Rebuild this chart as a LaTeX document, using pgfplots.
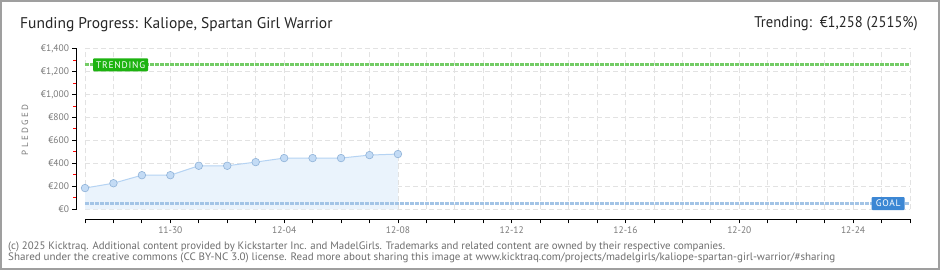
\documentclass[border=0pt]{standalone}
\usepackage{pgfplots}
\pgfplotsset{compat=1.18}
\usepackage{fontspec}
\setmainfont{PT Sans}
\definecolor{gridc}{HTML}{E2E2E2}
\definecolor{linec}{HTML}{B5D3F3}
\definecolor{fillc}{HTML}{EAF3FC}
\definecolor{markf}{HTML}{C3DBF5}
\definecolor{marke}{HTML}{8FB2D8}
\definecolor{trendc}{HTML}{74CC66}
\definecolor{trendbox}{HTML}{1DB310}
\definecolor{goalc}{HTML}{A3C4E6}
\definecolor{goalbox}{HTML}{3C87D4}
\definecolor{labc}{HTML}{7A7A7A}
\definecolor{footc}{HTML}{6E6E6E}
\begin{document}
\begin{tikzpicture}[x=1pt,y=1pt]
\draw[line width=2pt, draw=gray!75, fill=white] (1,1) rectangle (939,269);
\node[anchor=base west, inner sep=0, text=black!85] at (20,241)
  {\fontsize{15.5}{16}\selectfont Funding Progress: Kaliope, Spartan Girl Warrior};
\node[anchor=base east, inner sep=0, text=black!85] at (918,242)
  {\scalebox{0.94}[1]{\fontsize{15.5}{16}\selectfont Trending:\ \ €1,258 (2515\%)}};
\node[rotate=90, text=labc, inner sep=0] at (25,140)
  {\fontsize{9}{9}\selectfont\addfontfeature{LetterSpace=25}PLEDGED};
\node[anchor=base west, inner sep=0, text=footc] at (8,20.5)
  {\fontsize{10.8}{11}\selectfont (c) 2025 Kicktraq. Additional content provided by Kickstarter Inc. and MadelGirls. Trademarks and related content are owned by their respective companies.};
\node[anchor=base west, inner sep=0, text=footc] at (8,9.5)
  {\scalebox{1.02}[1]{\fontsize{10.8}{11}\selectfont Shared under the creative commons (CC BY-NC 3.0) license. Read more about sharing this image at www.kicktraq.com/projects/madelgirls/kaliope-spartan-girl-warrior/\#sharing}};
\begin{axis}[
  at={(85pt,60.7pt)}, anchor=south west,
  scale only axis, width=825pt, height=160.8pt,
  xmin=0, xmax=29, ymin=0, ymax=1400,
  axis x line=bottom, axis y line=left,
  axis x line shift=10pt, axis y line shift=8.5pt,
  axis line style={-, black, line width=1pt},
  xtick={0,...,29},
  xticklabels={,,,11-30,,,,12-04,,,,12-08,,,,12-12,,,,12-16,,,,12-20,,,,12-24,,},
  ytick={0,200,400,600,800,1000,1200,1400},
  yticklabels={€0,€200,€400,€600,€800,{€1,000},{€1,200},{€1,400}},
  minor y tick num=1,
  tick align=outside,
  major tick length=4pt, minor tick length=3pt,
  major tick style={black, line width=0.8pt},
  minor y tick style={red, line width=0.8pt},
  ticklabel style={font=\fontsize{9.5}{10}\selectfont, text=labc},
  grid=major,
  major grid style={gridc, line width=0.8pt, dash pattern=on 5pt off 3pt},
  clip=false,
]
% area
\addplot[draw=none, fill=fillc] coordinates {
 (0,185) (1,227) (2,297) (3,297) (4,379) (5,379) (6,411) (7,446) (8,446) (9,446) (10,472) (11,481)
} \closedcycle;
% goal
\addplot[goalc, line width=3pt, dash pattern=on 3.5pt off 1.5pt] coordinates {(0,50) (29,50)};
% trending
\addplot[trendc, line width=3pt, dash pattern=on 3.5pt off 1.5pt] coordinates {(0,1258) (29,1258)};
% data line
\addplot[linec, line width=1pt, mark=*, mark size=3.8pt,
  mark options={fill=markf, draw=marke, line width=0.6pt}] coordinates {
 (0,185) (1,227) (2,297) (3,297) (4,379) (5,379) (6,411) (7,446) (8,446) (9,446) (10,472) (11,481)
};
\node[anchor=west, fill=trendbox, text=white, rounded corners=1pt, minimum width=55pt,
  minimum height=13pt, inner sep=0, font=\fontsize{9.5}{9.5}\selectfont\addfontfeature{LetterSpace=8}]
  at (axis cs:0.28,1258) {TRENDING};
\node[anchor=east, fill=goalbox, text=white, rounded corners=1pt, minimum width=33pt,
  minimum height=13pt, inner sep=0, font=\fontsize{9.5}{9.5}\selectfont\addfontfeature{LetterSpace=8}]
  at (axis cs:28.82,50) {GOAL};
\end{axis}
\end{tikzpicture}
\end{document}
